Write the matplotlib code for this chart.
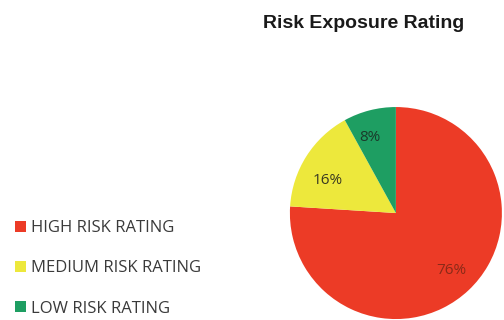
import matplotlib.pyplot as plt
from matplotlib.patches import Patch

# data
labels = ['HIGH RISK RATING', 'MEDIUM RISK RATING', 'LOW RISK RATING']
values = [76, 16, 8]
colors = ['#EC3B26', '#EDE83C', '#1E9E62']
pct_text = ['76%', '16%', '8%']

fig = plt.figure(figsize=(5.04, 3.2), dpi=100)

# pie on the right side
ax = fig.add_axes([0.575, 0.003, 0.421, 0.6625])
wedges, _ = ax.pie(values, colors=colors, startangle=90, counterclock=False,
                   wedgeprops=dict(linewidth=0))
ax.set_xlim(-1, 1)
ax.set_ylim(-1, 1)
ax.set_aspect('equal')

# percentage labels placed inside each wedge
label_pos = [(0.52, -0.54), (-0.64, 0.31), (-0.25, 0.71)]
label_col = ['#8a2a18', '#3a3a22', '#1a3a2a']
for t, (x, y), c in zip(pct_text, label_pos, label_col):
    ax.text(x, y, t, ha='center', va='center', fontsize=11,
            color=c, family='Open Sans')

fig.text(0.722, 0.928, 'Risk Exposure Rating', ha='center', va='center',
         fontsize=14, fontweight='bold', family='Liberation Sans', color='#1a1a1a')

handles = [Patch(facecolor=c, edgecolor='none') for c in colors]
fig.legend(handles, labels, loc='upper left', bbox_to_anchor=(0.024, 0.322),
           frameon=False, handlelength=0.66, handleheight=0.66, handletextpad=0.25,
           labelspacing=1.45, borderpad=0.2, borderaxespad=0,
           prop={'family': 'Open Sans', 'size': 12},
           labelcolor='#3a3a3a')

fig.savefig('out.png', dpi=100)
